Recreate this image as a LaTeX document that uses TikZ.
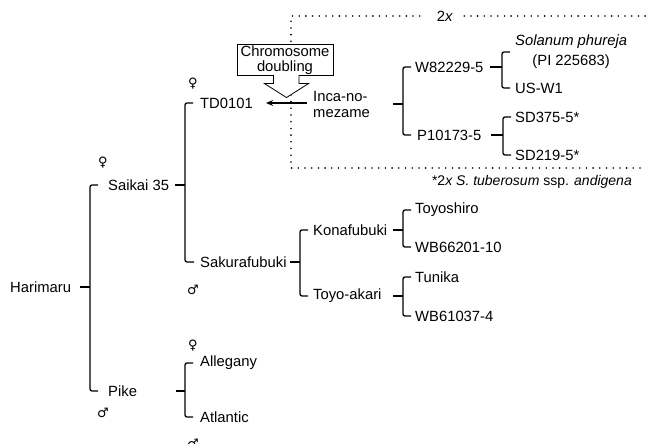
\documentclass[tikz,border=0pt]{standalone}
\usepackage{fontspec}
\setmainfont{Liberation Sans}
\newfontfamily\gsym{DejaVu Sans}
\usepackage{tikz}
\usetikzlibrary{calc,positioning,arrows.meta}

\begin{document}
\begin{tikzpicture}[x=1pt,y=-1pt,
  lbl/.style={anchor=west, inner sep=2pt, font=\fontsize{14.8}{16}\selectfont},
  brk/.style={line width=1.3pt, rounded corners=2pt},
  sex/.style={inner sep=0pt, font=\gsym\fontsize{13}{13}\selectfont},
  dotline/.style={line width=1.8pt, line cap=round, dash pattern=on 0pt off 6.7pt},
  fatarrow/.style={line width=2pt, -{Stealth[length=7pt,width=6pt]}}]
  \useasboundingbox (0,0) rectangle (646,444);

  % pedigree names
  \node[lbl] (harimaru) at (8,287) {Harimaru};
  \node[lbl] (saikai) at (106,185) {Saikai 35};
  \node[lbl] (pike) at (106,391) {Pike};
  \node[lbl] (td) at (198,103) {TD0101};
  \node[lbl] (sakura) at (198,262) {Sakurafubuki};
  \node[lbl] (allegany) at (198,363) {Allegany};
  \node[lbl] (atlantic) at (198,417) {Atlantic};
  \node[lbl] (kona) at (311,230) {Konafubuki};
  \node[lbl] (toyoakari) at (311,296) {Toyo-akari};
  \node[lbl] (toyoshiro) at (413,210) {Toyoshiro};
  \node[lbl] (wb66) at (413,247) {WB66201-10};
  \node[lbl] (tunika) at (413,277) {Tunika};
  \node[lbl] (wb61) at (413,316) {WB61037-4};
  \node[lbl, align=left, font=\fontsize{14.8}{16}\selectfont] (inca) at (311,104) {Inca-no-\\mezame};
  \node[lbl] (w82) at (413,67) {W82229-5};
  \node[lbl] (p10) at (415,135) {P10173-5};
  \node[lbl, align=center, font=\fontsize{14.8}{20}\selectfont] (phureja) at (513,52) {\textit{Solanum phureja}\\(PI 225683)};
  \node[lbl] (usw1) at (513,88) {US-W1};
  \node[lbl] (sd375) at (513,117) {SD375-5*};
  \node[lbl] (sd219) at (513,155) {SD219-5*};
  \node[lbl, anchor=east, font=\fontsize{14}{16}\selectfont] (note) at (634,182) {*2\textit{x S.~tuberosum} ssp. \textit{andigena}};

  % female / male marks
  \node[sex] (f-td) at (193,84) {♀};
  \node[sex] (f-saikai) at (103,163) {♀};
  \node[sex] (m-sakura) at (193,290) {♂};
  \node[sex] (f-allegany) at (193,346) {♀};
  \node[sex] (m-pike) at (103,413) {♂};
  \node[sex] (m-atlantic) at (193,444) {♂};

  % bracket spines
  \coordinate (s-hari) at (90,0);
  \coordinate (s-saikai) at (185,0);
  \coordinate (s-pike) at (185,0);
  \coordinate (s-sakura) at (300,0);
  \coordinate (s-kona) at (403,0);
  \coordinate (s-toyo) at (403,0);
  \coordinate (s-inca) at (403,0);
  \coordinate (s-w82) at (502,0);
  \coordinate (s-p10) at (503,0);

  \draw[brk] ($(s-hari |- harimaru)+(-10,0)$) -- (s-hari |- harimaru);
  \draw[brk] ($(s-hari |- saikai)+(8,0)$) -| (s-hari |- pike) -- ($(s-hari |- pike)+(8,0)$);
  \draw[brk] ($(s-saikai |- saikai)+(-10,0)$) -- (s-saikai |- saikai);
  \draw[brk] ($(s-saikai |- td)+(8,0)$) -| (s-saikai |- sakura) -- ($(s-saikai |- sakura)+(9,0)$);
  \draw[brk] ($(s-pike |- pike)+(-9,0)$) -- (s-pike |- pike);
  \draw[brk] ($(s-pike |- allegany)+(8,0)$) -| (s-pike |- atlantic) -- ($(s-pike |- atlantic)+(8,0)$);
  \draw[brk] ($(s-sakura |- sakura)+(-10,0)$) -- (s-sakura |- sakura);
  \draw[brk] ($(s-sakura |- kona)+(8,0)$) -| (s-sakura |- toyoakari) -- ($(s-sakura |- toyoakari)+(8,0)$);
  \draw[brk] ($(s-kona |- kona)+(-10,0)$) -- (s-kona |- kona);
  \draw[brk] ($(s-kona |- toyoshiro)+(8,0)$) -| (s-kona |- wb66) -- ($(s-kona |- wb66)+(8,0)$);
  \draw[brk] ($(s-toyo |- toyoakari)+(-10,0)$) -- (s-toyo |- toyoakari);
  \draw[brk] ($(s-toyo |- tunika)+(8,0)$) -| (s-toyo |- wb61) -- ($(s-toyo |- wb61)+(8,0)$);
  \draw[brk] ($(s-inca |- inca)+(-10,0)$) -- (s-inca |- inca);
  \draw[brk] ($(s-inca |- w82)+(8,0)$) -| (s-inca |- p10) -- ($(s-inca |- p10)+(8,0)$);
  \draw[brk] ($(s-w82 |- w82)+(-12,0)$) -- (s-w82 |- w82);
  \draw[brk] ($(s-w82 |- phureja)+(8,0)$) -| (s-w82 |- usw1) -- ($(s-w82 |- usw1)+(8,0)$);
  \draw[brk] ($(s-p10 |- p10)+(-12,0)$) -- (s-p10 |- p10);
  \draw[brk] ($(s-p10 |- sd375)+(8,0)$) -| (s-p10 |- sd219) -- ($(s-p10 |- sd219)+(8,0)$);

  % 2x frame
  \node[lbl, anchor=center] (twox) at (445,16) {2\textit{x}};
  \coordinate (fr-tl) at (291,16);
  \coordinate (fr-bl) at (291,168);
  \coordinate (fr-br) at (650,168);
  \coordinate (fr-tr) at (650,16);
  \draw[dotline] ($(twox.west)+(-15,0)$) -- (fr-tl) -- (fr-bl) -- (fr-br);
  \draw[dotline] ($(twox.east)+(9,0)$) -- (fr-tr);

  % chromosome doubling
  \node[draw, line width=0.8pt, fill=white, align=center, minimum width=96pt, minimum height=30pt,
    inner sep=1pt, font=\fontsize{14.8}{14.5}\selectfont] (dbl) at (285,60) {Chromosome\\doubling};
  \filldraw[fill=white, line width=0.8pt] ($(dbl.south)+(-11.5,-0.6)$) -- ++(0,8.6) -- ++(-9,0)
    -- ++(22,14) -- ++(22,-14) -- ++(-9.5,0) -- ++(0,-8.6);
  \draw[fatarrow] ($(inca.west |- td)+(-4,0)$) -- ($(td.east)+(11,0)$);
\end{tikzpicture}
\end{document}
